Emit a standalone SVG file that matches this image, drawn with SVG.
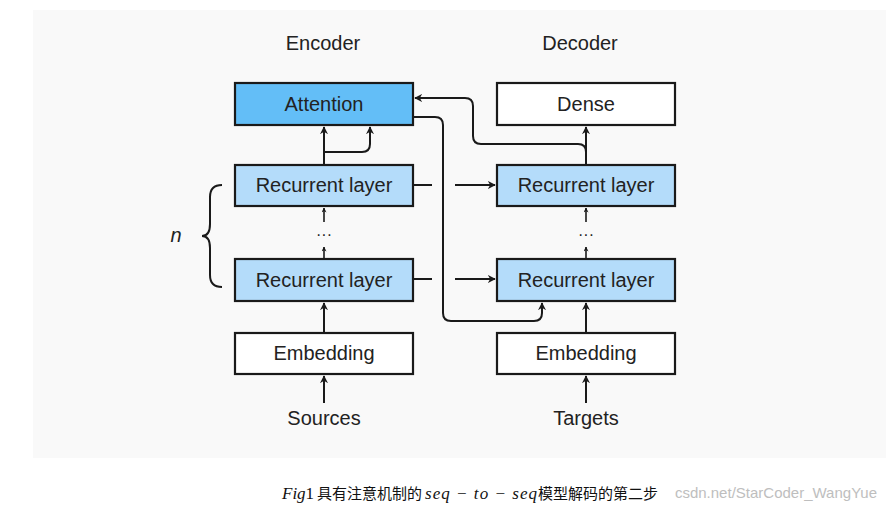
<svg xmlns="http://www.w3.org/2000/svg" width="886" height="511" viewBox="0 0 886 511">
<style>
.box{stroke:#1a1a1a;stroke-width:2.2}
.att{fill:#63bef7}
.rnn{fill:#b4dcfa}
.wht{fill:#ffffff}
.lbl{font-family:"Liberation Sans",Arial,sans-serif;font-size:20px;fill:#222;text-anchor:middle}
.ln{fill:none;stroke:#1a1a1a;stroke-width:2}
.arr{fill:none;stroke:#1a1a1a;stroke-width:2;marker-end:url(#ah)}
.sarr{fill:none;stroke:#1a1a1a;stroke-width:1.6;marker-end:url(#ahs)}
.cap{font-size:15px;fill:#111}
</style>
<defs>
<marker id="ah" viewBox="0 0 10 10" refX="9" refY="5" markerWidth="8" markerHeight="8" markerUnits="userSpaceOnUse" orient="auto">
<path d="M0,0 L10,5 L0,10 L3,5 z" fill="#1a1a1a"/>
</marker>
<marker id="ahs" viewBox="0 0 10 10" refX="9" refY="5" markerWidth="5" markerHeight="5" markerUnits="userSpaceOnUse" orient="auto">
<path d="M0,0 L10,5 L0,10 L3,5 z" fill="#1a1a1a"/>
</marker>
</defs>
<rect x="0" y="0" width="886" height="511" fill="#ffffff"/>
<rect x="33" y="10" width="853" height="448" fill="#f9f9f9"/>

<text class="lbl" x="323" y="50">Encoder</text>
<text class="lbl" x="580" y="50">Decoder</text>

<g id="attention"><rect class="box att" x="235" y="83" width="178" height="42"/><text class="lbl" x="324" y="111">Attention</text></g>
<g id="dense"><rect class="box wht" x="497" y="83" width="178" height="42"/><text class="lbl" x="586" y="111">Dense</text></g>
<g id="enc-rnn-top"><rect class="box rnn" x="235" y="165" width="178" height="41"/><text class="lbl" x="324" y="192">Recurrent layer</text></g>
<g id="enc-rnn-bot"><rect class="box rnn" x="235" y="259" width="178" height="42"/><text class="lbl" x="324" y="287">Recurrent layer</text></g>
<g id="dec-rnn-top"><rect class="box rnn" x="497" y="165" width="178" height="41"/><text class="lbl" x="586" y="192">Recurrent layer</text></g>
<g id="dec-rnn-bot"><rect class="box rnn" x="497" y="259" width="178" height="42"/><text class="lbl" x="586" y="287">Recurrent layer</text></g>
<g id="enc-emb"><rect class="box wht" x="235" y="333" width="178" height="41"/><text class="lbl" x="324" y="360">Embedding</text></g>
<g id="dec-emb"><rect class="box wht" x="497" y="333" width="178" height="41"/><text class="lbl" x="586" y="360">Embedding</text></g>
<g id="sources"><text class="lbl" x="324" y="425">Sources</text></g>
<g id="targets"><text class="lbl" x="586" y="425">Targets</text></g>
<g id="enc-dots"><text class="lbl" x="324" y="240" style="font-size:16px">···</text></g>
<g id="dec-dots"><text class="lbl" x="586" y="240" style="font-size:16px">···</text></g>
<g id="brace">
<path class="ln" d="M222,185 Q210,185 210,197 V224 Q210,236 202,236 Q210,236 210,248 V275 Q210,287 222,287"/>
<text x="176" y="242" style="font-family:'Liberation Sans',Arial,sans-serif;font-size:20px;font-style:italic;fill:#222;text-anchor:middle">n</text>
</g>

<g id="connectors">
<path class="arr" d="M324,403 V376"/>
<path class="arr" d="M586,403 V376"/>
<path class="arr" d="M324,333 V303"/>
<path class="arr" d="M586,333 V303"/>
<path class="sarr" d="M324,259 V247"/>
<path class="sarr" d="M324,222 V208"/>
<path class="sarr" d="M586,259 V247"/>
<path class="sarr" d="M586,222 V208"/>
<path class="arr" d="M324,165 V127"/>
<path class="arr" d="M324,152 H362 Q370,152 370,144 V127"/>
<path class="arr" d="M586,165 V127"/>
<path class="arr" d="M586,160 V152 Q586,144 578,144 H481 Q473,144 473,136 V106 Q473,98 465,98 H415"/>
<path class="arr" d="M413,117 H435 Q443,117 443,125 V313 Q443,321 451,321 H534 Q542,321 542,313 V303"/>
<path class="ln" d="M413,185 H432"/>
<path class="arr" d="M455,185 H495"/>
<path class="ln" d="M413,279 H432"/>
<path class="arr" d="M455,279 H495"/>
</g>

<g id="caption">
<text class="cap" y="499"><tspan x="282" style="font-family:'Liberation Serif',serif;font-style:italic;font-size:17px">Fig</tspan><tspan style="font-family:'Liberation Serif',serif;font-size:17px">1</tspan><tspan x="317" style="font-family:'Noto Sans CJK SC',sans-serif">具有注意机制的</tspan><tspan x="425" textLength="112" style="font-family:'Liberation Serif',serif;font-style:italic;font-size:17px">seq − to − seq</tspan><tspan x="538" style="font-family:'Noto Sans CJK SC',sans-serif">模型解码的第二步</tspan></text>
<text x="877" y="498" style="font-family:'Liberation Sans',Arial,sans-serif;font-size:15px;fill:#b8b8b8;text-anchor:end;opacity:0.9">csdn.net/StarCoder_WangYue</text>
</g>
</svg>
